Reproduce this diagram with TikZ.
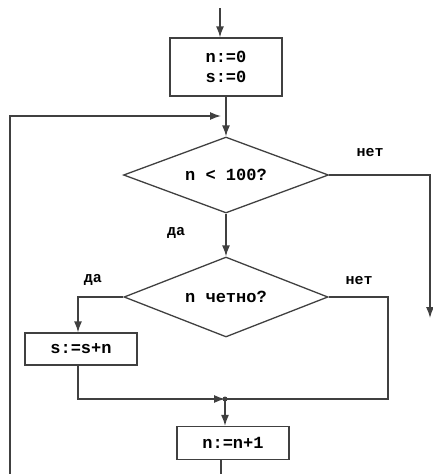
\documentclass[tikz,border=0pt]{standalone}
\usepackage{fontspec}
\setmonofont{Liberation Mono}
\usetikzlibrary{shapes.geometric,arrows.meta,calc}
\begin{document}
\begin{tikzpicture}[x=1pt,y=-1pt,
  line/.style={draw=black!75,line width=1.3pt},
  arr/.style={line,-{Latex[length=11pt,width=8pt]}},
  procbox/.style={line,rectangle,inner sep=0pt,font=\ttfamily\bfseries\fontsize{17}{19}\selectfont,align=center},
  decision/.style={line,diamond,inner sep=0pt,font=\ttfamily\bfseries\fontsize{17}{19}\selectfont},
  lbl/.style={font=\ttfamily\bfseries\fontsize{15}{17}\selectfont,inner sep=0pt}]
\useasboundingbox (0,0) rectangle (433,474);
\clip (0,0) rectangle (433,474);

\node[procbox,minimum width=112pt,minimum height=58pt] (init) at (226,67) {n:=0\\[1pt]s:=0};
\node[decision,minimum width=205pt,minimum height=76pt,aspect=2.7] (d1) at (226,175) {n < 100?};
\node[decision,minimum width=204pt,minimum height=80pt,aspect=2.55] (d2) at (226,297) {n четно?};
\node[procbox,minimum width=112pt,minimum height=32pt] (sbox) at (81,349) {s:=s+n};
\node[procbox,minimum width=112pt,minimum height=33pt] (nbox) at (233,443) {n:=n+1};

\coordinate (start) at (220,8);
\coordinate (loopin) at (221,116);
\coordinate (loopleft) at (10,116);
\coordinate (loopbot) at (10,480);
\coordinate (nbot) at (221,480);
\coordinate (exitR) at (430,175);
\coordinate (exitEnd) at (430,318);
\coordinate (noR) at (388,297);
\coordinate (noRB) at (388,399);
\coordinate (join) at (225,399);
\coordinate (sbL) at (78,399);

\node[lbl] (no1) at (370,153) {нет};
\node[lbl] (yes1) at (176,233) {да};
\node[lbl] (yes2) at (93,280) {да};
\node[lbl] (no2) at (359,281) {нет};

\draw[arr] (start) -- (start |- init.north);
\draw[arr] (init.south) -- (d1.north);
\draw[arr] (loopbot) -- (loopleft) -- (loopin);
\draw[arr] (d1.east) -- (exitR) -- (exitEnd);
\draw[arr] (d1.south) -- (d2.north);
\draw[arr] (d2.west) -| (sbox.north -| sbL);
\draw[arr] (sbox.south -| sbL) -- (sbL) -- (join);
\draw[line] (d2.east) -- (noR) -- (noRB) -- (join);
\fill[black!75] (join) circle (2.5pt);
\draw[arr] (join) -- (join |- nbox.north);
\draw[line] (nbox.south -| nbot) -- (nbot);
\end{tikzpicture}
\end{document}
